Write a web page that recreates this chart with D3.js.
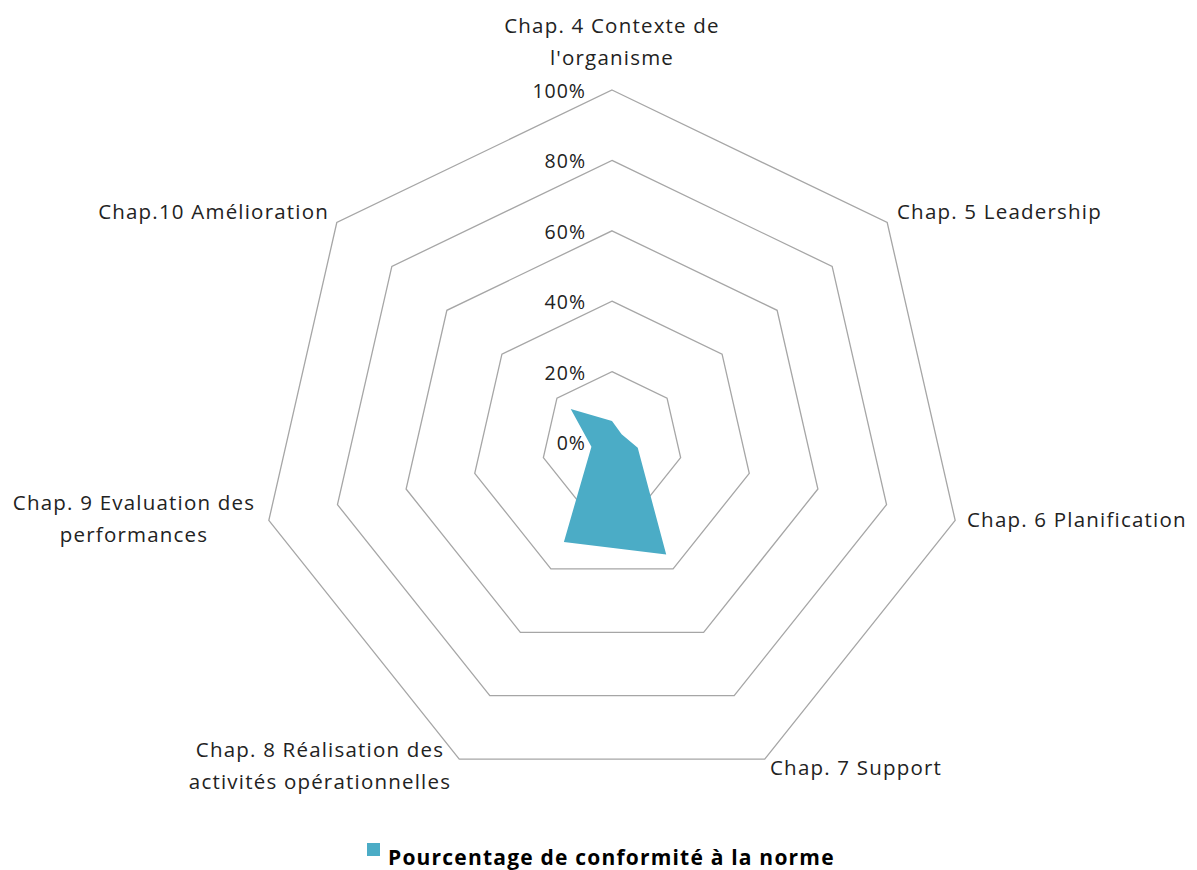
<!DOCTYPE html>
<html lang="fr">
<head>
  <meta charset="UTF-8">
  <title>Radar conformité</title>
  <script src="https://d3js.org/d3.v7.min.js"></script>
  <style>
    body { margin: 0; background: #fff; }
    svg text { font-family: "Open Sans", Lato, sans-serif; fill: #222; }
  </style>
</head>
<body>
  <div id="chart"></div>
  <script>
    const chapters = [
      ["Chap. 4 Contexte de", "l'organisme"],
      ["Chap. 5 Leadership"],
      ["Chap. 6 Planification"],
      ["Chap. 7 Support"],
      ["Chap. 8 Réalisation des", "activités opérationnelles"],
      ["Chap. 9 Evaluation des", "performances"],
      ["Chap.10 Amélioration"]
    ];
    const conformite = [0.06, 0.035, 0.075, 0.355, 0.315, 0.06, 0.15];
    const ticks = [0, 0.2, 0.4, 0.6, 0.8, 1];
    const seriesName = "Pourcentage de conformité à la norme";

    const width = 1197, height = 870;
    const cx = 612, cy = 442, R = 352;

    const svg = d3.select("#chart").append("svg")
      .attr("width", width)
      .attr("height", height);

    const n = chapters.length;
    const angle = d3.scaleLinear().domain([0, n]).range([0, 2 * Math.PI]);
    const r = d3.scaleLinear().domain([0, 1]).range([0, R]);

    const pt = (i, v) => [cx + r(v) * Math.sin(angle(i)), cy - r(v) * Math.cos(angle(i))];

    // grid rings
    svg.append("g").selectAll("polygon")
      .data(ticks.slice(1))
      .enter()
      .append("polygon")
      .attr("points", t => d3.range(n).map(i => pt(i, t).join(",")).join(" "))
      .attr("fill", "none")
      .attr("stroke", "#a6a6a6")
      .attr("stroke-width", 1.3);

    // data area
    svg.append("polygon")
      .attr("points", conformite.map((v, i) => pt(i, v).join(",")).join(" "))
      .attr("fill", "#4bacc6");

    // tick labels
    svg.append("g").selectAll("text")
      .data(ticks)
      .enter()
      .append("text")
      .attr("x", cx - 26)
      .attr("y", t => cy - r(t) + 8)
      .attr("text-anchor", "end")
      .style("font-size", "19.5px")
      .style("letter-spacing", "1px")
      .text(t => d3.format(".0%")(t));

    // axis labels
    const labelPos = [
      { x: 612, y: 33, anchor: "middle" },
      { x: 897, y: 219, anchor: "start" },
      { x: 967, y: 527, anchor: "start" },
      { x: 770, y: 775, anchor: "start" },
      { x: 320, y: 757, anchor: "middle" },
      { x: 134, y: 510, anchor: "middle" },
      { x: 329, y: 219, anchor: "end" }
    ];
    chapters.forEach((lines, i) => {
      const p = labelPos[i];
      const t = svg.append("text")
        .attr("x", p.x)
        .attr("y", p.y)
        .attr("text-anchor", p.anchor)
        .style("font-size", "20.5px")
        .style("letter-spacing", "1.2px");
      lines.forEach((l, j) => {
        t.append("tspan")
          .attr("x", p.x)
          .attr("dy", j === 0 ? 0 : 32)
          .text(l);
      });
    });

    // legend
    const legend = svg.append("g");
    legend.append("rect")
      .attr("x", 367).attr("y", 843)
      .attr("width", 13).attr("height", 13)
      .attr("fill", "#4bacc6");
    legend.append("text")
      .attr("x", 388).attr("y", 865)
      .style("font-size", "21px")
      .style("font-weight", "bold")
      .style("letter-spacing", "1.2px")
      .style("fill", "#000")
      .text(seriesName);
  </script>
</body>
</html>
